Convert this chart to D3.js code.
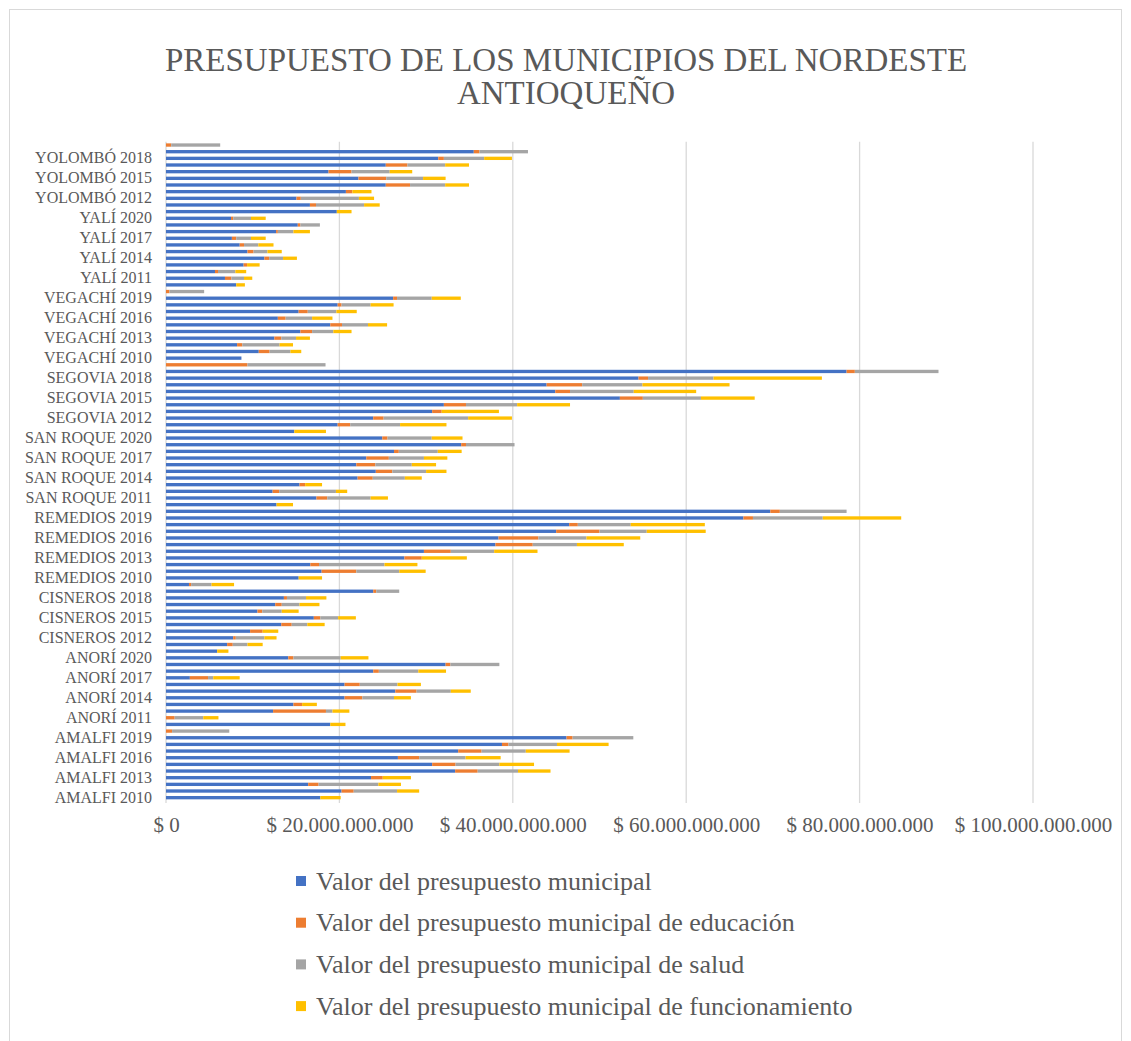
<!DOCTYPE html>
<html>
<head>
<meta charset="utf-8">
<script src="https://cdn.jsdelivr.net/npm/d3@7"></script>
<style>
  body { margin: 0; background: #fff; }
  text { font-family: "Liberation Serif", "Times New Roman", serif; fill: #595959; }
</style>
</head>
<body>
<svg id="chart" width="1131" height="1041"></svg>
<script>
// categorias: municipio + año (de abajo hacia arriba)
const municipios = ['AMALFI', 'ANORÍ', 'CISNEROS', 'REMEDIOS', 'SAN ROQUE', 'SEGOVIA', 'VEGACHÍ', 'YALÍ', 'YOLOMBÓ'];
const anios = [2010, 2011, 2012, 2013, 2014, 2015, 2016, 2017, 2018, 2019, 2020];

// valores en miles de millones de pesos, 11 años por municipio
const presupuesto = [
  17.8, 20.25, 16.4, 23.65, 33.35, 30.7, 26.75, 33.7, 38.75, 46.2, 0,
  18.95, 0, 12.35, 14.7, 20.6, 26.45, 20.6, 2.75, 23.9, 32.25, 14.1,
  5.9, 7.05, 7.75, 9.7, 13.3, 17.05, 10.55, 12.6, 13.6, 23.9, 2.65,
  15.3, 17.95, 16.65, 27.5, 29.75, 38.0, 38.35, 45.0, 46.5, 66.6, 69.7,
  12.75, 17.35, 12.3, 15.4, 22.1, 24.2, 21.95, 23.1, 26.3, 34.05, 24.95,
  14.8, 19.8, 23.9, 30.7, 32.05, 52.35, 44.9, 43.9, 54.5, 78.5, 0,
  8.7, 10.7, 8.2, 12.5, 15.5, 18.95, 12.9, 15.3, 19.8, 26.2, 0,
  8.1, 6.8, 5.65, 8.95, 11.35, 9.4, 8.5, 7.6, 12.7, 15.2, 7.5,
  19.7, 16.6, 15.05, 20.75, 25.35, 22.2, 18.75, 25.35, 31.4, 35.5, 0
];
const educacion = [
  0, 1.4, 1.2, 1.35, 2.6, 2.7, 2.45, 2.7, 0.75, 0.7, 0.7,
  0, 1.0, 6.1, 1.0, 2.05, 2.45, 1.75, 2.1, 0.65, 0.55, 0.6,
  0, 0.65, 0.3, 1.45, 1.2, 0.75, 0.55, 0.75, 0.35, 0.35, 0.25,
  0, 4.0, 1.0, 2.0, 3.1, 4.3, 4.6, 5.0, 1.0, 1.1, 1.1,
  0, 1.25, 0.75, 0.65, 1.75, 1.9, 2.2, 2.6, 0.55, 0.55, 0.6,
  0, 1.45, 1.2, 1.1, 2.55, 2.65, 1.7, 4.1, 1.1, 0.95, 9.4,
  0, 1.25, 0.6, 0.8, 1.35, 1.35, 0.9, 1.05, 0.45, 0.45, 0.4,
  0, 0.75, 0.35, 0.4, 0.55, 0.7, 0.5, 0.5, 0.2, 0.3, 0.25,
  0, 0.7, 0.5, 0.75, 2.8, 3.2, 2.65, 2.5, 0.65, 0.65, 0.6
];
const salud = [
  0, 5.0, 6.9, 0, 4.65, 5.05, 5.35, 5.1, 5.6, 7.0, 6.6,
  0, 3.3, 0.75, 0, 3.65, 3.95, 4.35, 0.6, 4.55, 5.65, 5.45,
  0, 1.7, 3.3, 0, 1.8, 2.05, 2.25, 2.05, 2.2, 2.65, 2.35,
  0, 4.95, 7.55, 0, 5.0, 5.1, 5.55, 5.45, 6.1, 8.05, 7.7,
  0, 5.0, 6.55, 0, 3.7, 3.9, 4.2, 4.05, 4.5, 5.6, 5.1,
  0, 5.75, 9.75, 0, 5.9, 6.7, 7.35, 6.95, 7.55, 9.65, 9.0,
  0, 2.4, 4.3, 1.7, 2.45, 3.0, 3.05, 3.3, 3.35, 4.0, 4.0,
  0, 1.45, 2.0, 0, 1.6, 1.6, 1.65, 1.7, 1.8, 2.25, 2.05,
  0, 5.55, 6.7, 0, 4.05, 4.25, 4.4, 4.35, 4.65, 5.6, 5.65
];
const funcionamiento = [
  2.35, 2.55, 2.6, 3.25, 3.75, 4.0, 4.05, 5.05, 5.95, 0, 0,
  1.75, 1.75, 1.95, 1.7, 1.95, 2.3, 2.7, 3.05, 3.2, 0, 3.2,
  1.3, 1.75, 1.4, 1.8, 2.0, 2.05, 1.95, 2.3, 2.35, 0, 2.6,
  2.7, 3.05, 3.8, 5.2, 5.0, 5.4, 6.2, 6.8, 8.55, 9.05, 0,
  1.9, 2.0, 1.3, 1.95, 1.95, 2.35, 2.8, 2.7, 2.75, 0, 3.55,
  3.65, 5.35, 5.05, 6.6, 6.1, 6.2, 7.2, 10.05, 12.5, 0, 0,
  0, 1.25, 1.55, 1.6, 2.1, 2.2, 2.35, 2.35, 2.65, 3.35, 0,
  1.0, 0.95, 1.25, 1.45, 1.6, 1.65, 1.75, 1.7, 1.9, 0, 1.7,
  1.7, 1.8, 1.75, 2.2, 2.75, 2.6, 2.6, 2.75, 3.2, 0, 0
];

const xTicks = [0, 20e9, 40e9, 60e9, 80e9, 100e9];
const seriesNames = [
  'Valor del presupuesto municipal',
  'Valor del presupuesto municipal de educación',
  'Valor del presupuesto municipal de salud',
  'Valor del presupuesto municipal de funcionamiento'
];
const colors = ['#4472C4', '#ED7D31', '#A5A5A5', '#FFC000'];

const categories = [];
municipios.forEach(m => anios.forEach(a => categories.push(m + ' ' + a)));

const keys = ['p', 'e', 's', 'f'];
const rows = categories.map((c, i) => ({
  cat: c,
  p: presupuesto[i] * 1e9,
  e: educacion[i] * 1e9,
  s: salud[i] * 1e9,
  f: funcionamiento[i] * 1e9
}));

const svg = d3.select('#chart');

// borde del gráfico
svg.append('rect')
  .attr('x', 9.5).attr('y', 9.5)
  .attr('width', 1112).attr('height', 1040)
  .attr('fill', 'none')
  .attr('stroke', '#d9d9d9');

const x = d3.scaleLinear().domain([0, 100e9]).range([166, 1033]);
const y = d3.scaleBand()
  .domain(categories)
  .range([801, 141.7])
  .paddingInner(0.5)
  .paddingOuter(0.25);

// líneas de cuadrícula
svg.append('g')
  .selectAll('line')
  .data(xTicks)
  .join('line')
  .attr('x1', d => x(d)).attr('x2', d => x(d))
  .attr('y1', 141.7).attr('y2', 803)
  .attr('stroke', '#d9d9d9')
  .attr('stroke-width', 1.3);

const stack = d3.stack().keys(keys)(rows);

svg.append('g')
  .selectAll('g')
  .data(stack)
  .join('g')
  .attr('fill', (d, i) => colors[i])
  .selectAll('rect')
  .data(d => d)
  .join('rect')
  .attr('x', d => x(d[0]))
  .attr('y', d => y(d.data.cat))
  .attr('width', d => x(d[1]) - x(d[0]))
  .attr('height', y.bandwidth());

// eje de categorías (una de cada tres)
const yAxis = svg.append('g')
  .attr('transform', 'translate(166,0)')
  .call(d3.axisLeft(y)
    .tickValues(categories.filter((d, i) => i % 3 === 0))
    .tickSize(0)
    .tickPadding(14));
yAxis.select('.domain').remove();
yAxis.selectAll('text')
  .style('font-size', '16px')
  .style('font-family', '"Liberation Serif", serif')
  .attr('fill', '#595959');

const locale = d3.formatLocale({ decimal: ',', thousands: '.', grouping: [3], currency: ['$', ''] });
const fmt = locale.format(',.0f');

const xAxis = svg.append('g')
  .attr('transform', 'translate(0,803)')
  .call(d3.axisBottom(x)
    .tickValues(xTicks)
    .tickSize(0)
    .tickPadding(14)
    .tickFormat(d => '$ ' + fmt(d)));
xAxis.select('.domain').remove();
xAxis.selectAll('text')
  .style('font-size', '21px')
  .style('font-family', '"Liberation Serif", serif')
  .attr('fill', '#595959');

// título
svg.append('text')
  .attr('x', 566).attr('y', 71)
  .attr('text-anchor', 'middle')
  .style('font-size', '33px')
  .text('PRESUPUESTO DE LOS MUNICIPIOS DEL NORDESTE');
svg.append('text')
  .attr('x', 566).attr('y', 104)
  .attr('text-anchor', 'middle')
  .style('font-size', '33px')
  .text('ANTIOQUEÑO');

// leyenda
const legend = svg.append('g')
  .selectAll('g')
  .data(seriesNames)
  .join('g')
  .attr('transform', (d, i) => `translate(296, ${881 + i * 41.7})`);
legend.append('rect')
  .attr('x', 0).attr('y', -5)
  .attr('width', 10).attr('height', 10)
  .attr('fill', (d, i) => colors[i]);
legend.append('text')
  .attr('x', 20).attr('y', 8.5)
  .style('font-size', '26px')
  .text(d => d);
</script>
</body>
</html>
